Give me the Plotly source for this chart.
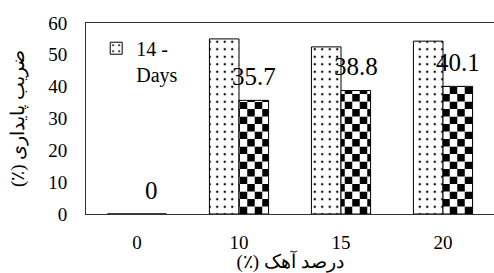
import math
import plotly.graph_objects as go

# ---- data ----
categories = ["0", "10", "15", "20"]
days14 = [0, 55.0, 52.5, 54.3]
days28 = [0, 35.7, 38.8, 40.1]
labels28 = ["0", "35.7", "38.8", "40.1"]
y_ticks = [0, 10, 20, 30, 40, 50, 60]
legend_name = "14 -<br>Days"
RLE, PDF, RLM = "\u202b", "\u202c", "\u200f"
x_title = RLE + RLM + "درصد آهک (٪)" + RLM + PDF
y_title = RLE + RLM + "ضریب پایداری (٪)" + RLM + PDF

# ---- layout constants ----
W, H = 494, 273
ML, MR, MT, MB = 86, 0, 23, 59
YMAX = 60
BARGAP = 0.42
FONT = "Liberation Serif"
plot_h = H - MT - MB
plot_w = W - ML - MR
cat_px = plot_w / len(categories)
SQ = 7.5  # checker square in px
row_h = SQ * YMAX / plot_h

fig = go.Figure()

# dotted series
fig.add_trace(go.Bar(
    x=categories, y=days14, name=legend_name, offsetgroup="A",
    marker=dict(color="white", line=dict(color="black", width=1),
                pattern=dict(shape=".", fgcolor="black", bgcolor="white",
                             size=7.5, solidity=0.08, fillmode="replace")),
    showlegend=True,
))

# checker series: built from horizontal rows of alternating stripe patterns
n_rows = math.ceil(max(days28) / row_h)
for k in range(n_rows):
    seg = [max(0.0, min(row_h, v - k * row_h)) for v in days28]
    fg, bg = ("black", "white") if k % 2 == 0 else ("white", "black")
    fig.add_trace(go.Bar(
        x=categories, y=seg, base=[k * row_h] * len(categories),
        offsetgroup="B", showlegend=False, hoverinfo="skip",
        marker=dict(color=bg, line=dict(width=0),
                    pattern=dict(shape="|", fgcolor=fg, bgcolor=bg,
                                 size=2 * SQ, solidity=0.5, fillmode="replace")),
    ))
# outline of checker bars
fig.add_trace(go.Bar(
    x=categories, y=days28, offsetgroup="B", showlegend=False, name="28 - Days",
    marker=dict(color="rgba(0,0,0,0)", line=dict(color="black", width=1)),
))

# data labels (x given as category index)
shift = (1 - BARGAP) * cat_px / 4
for i, (v, t) in enumerate(zip(days28, labels28)):
    fig.add_annotation(x=i, y=v, xref="x", yref="y", text=t, showarrow=False,
                       xshift=shift, yshift=24, yanchor="middle",
                       font=dict(family=FONT, size=25, color="black"))

fig.update_layout(
    width=W, height=H,
    margin=dict(l=ML, r=MR, t=MT, b=MB, pad=0),
    paper_bgcolor="white", plot_bgcolor="white",
    barmode="group", bargap=BARGAP, bargroupgap=0,
    font=dict(family=FONT, size=19, color="black"),
    showlegend=True,
    legend=dict(x=0.025, y=0.97, xanchor="left", yanchor="top",
                bgcolor="rgba(0,0,0,0)", valign="top",
                font=dict(family=FONT, size=20, color="black"),
                itemwidth=30),
)
fig.update_xaxes(
    type="category", range=[-0.5, len(categories) - 0.5],
    showline=True, mirror=True, linecolor="#333", linewidth=1,
    showgrid=False, zeroline=False, ticks="outside", ticklen=11,
    tickcolor="rgba(0,0,0,0)", automargin=False,
    tickfont=dict(family=FONT, size=19),
    title=dict(text=x_title, standoff=5, font=dict(family=FONT, size=19)),
)
fig.update_yaxes(
    range=[0, YMAX], tickvals=y_ticks, showline=True, mirror=True,
    linecolor="#333", linewidth=1, showgrid=False, zeroline=False,
    ticks="outside", ticklen=14, tickcolor="rgba(0,0,0,0)", automargin=False,
    tickfont=dict(family=FONT, size=19),
    title=dict(text=y_title, standoff=18, font=dict(family=FONT, size=19)),
)

fig.write_html("out.html", config={"displayModeBar": False},
               post_script="document.body.style.margin='0';document.body.style.overflow='hidden';")
